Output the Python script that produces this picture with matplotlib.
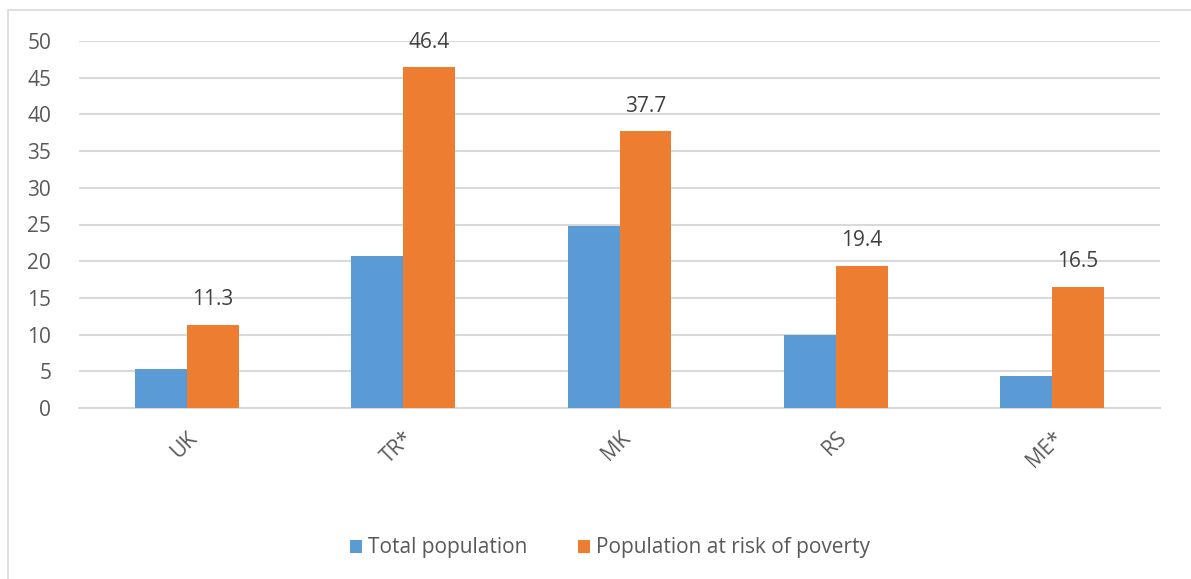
import matplotlib
matplotlib.use('Agg')
import matplotlib.pyplot as plt
import numpy as np
from matplotlib.patches import Rectangle

# Data
countries = ['UK', 'TR*', 'MK', 'RS', 'ME*']
total_pop = [5.3, 20.7, 24.8, 9.9, 4.4]
risk_pop = [11.3, 46.4, 37.7, 19.4, 16.5]
series_names = ['Total population', 'Population at risk of poverty']

plt.rcParams['font.family'] = ['Open Sans', 'DejaVu Sans']

fig = plt.figure(figsize=(11.91, 5.79), dpi=100)
W, H = 1191, 579
ax = fig.add_axes([79 / W, 1 - 408 / H, (1160 - 79) / W, (408 - 41) / H])

# outer chart border (only top/left visible in the crop)
fig.patches.append(Rectangle((8 / W, -0.1), 1.2, 1.1 - 10 / H,
                             transform=fig.transFigure, fill=False,
                             edgecolor='#d9d9d9', linewidth=1.2))

x = np.arange(len(countries))
w = 0.24
ax.bar(x - w / 2, total_pop, w, color='#5B9BD5', label=series_names[0], zorder=3)
bars = ax.bar(x + w / 2, risk_pop, w, color='#ED7D31', label=series_names[1], zorder=3)

# value labels above the orange bars
for b, v in zip(bars, risk_pop):
    ax.text(b.get_x() + b.get_width() / 2, v + 2.0, f'{v:.1f}',
            ha='center', va='bottom', fontsize=15, color='#404040')

ax.set_xlim(-0.5, len(countries) - 0.5)
ax.set_ylim(0, 50)
ax.set_yticks(range(0, 51, 5))
ax.yaxis.grid(True, color='#d9d9d9', linewidth=1.5, zorder=0)
ax.set_axisbelow(True)
for s in ['top', 'right', 'left']:
    ax.spines[s].set_visible(False)
ax.spines['bottom'].set_color('#d9d9d9')
ax.spines['bottom'].set_linewidth(1.5)
ax.tick_params(axis='both', length=0, labelsize=15, labelcolor='#595959')
ax.tick_params(axis='y', pad=20)
ax.set_xticks(x)
ax.set_xticklabels(countries, rotation=45, ha='right', rotation_mode='anchor')
ax.tick_params(axis='x', pad=14)

fig.legend(loc='center', bbox_to_anchor=(610 / W, 1 - 548 / H), ncol=2,
           frameon=False, fontsize=15, labelcolor='#595959',
           handlelength=0.6, handleheight=0.6, handletextpad=0.3, columnspacing=2.4)

fig.savefig('out.png', dpi=100)
